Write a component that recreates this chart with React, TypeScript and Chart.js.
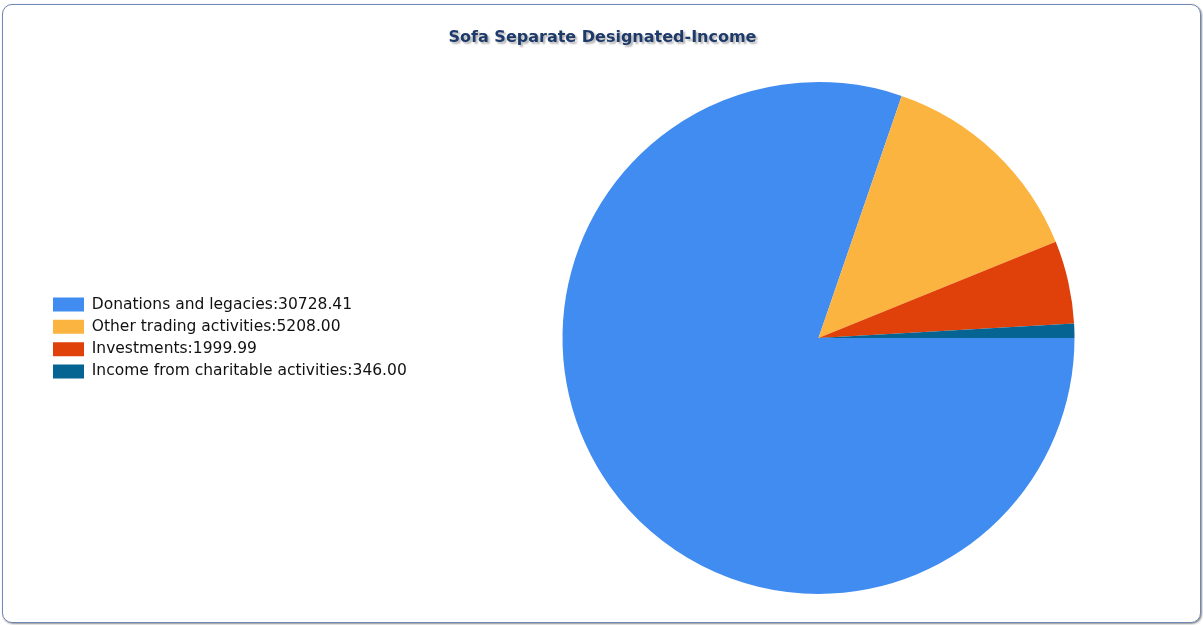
import React, { useEffect, useRef } from "react";
import { Chart, registerables } from "chart.js";

Chart.register(...registerables);

const categories = [
  "Donations and legacies",
  "Other trading activities",
  "Investments",
  "Income from charitable activities",
];
const values = [30728.41, 5208.0, 1999.99, 346.0];
const colors = ["#418CF0", "#FCB441", "#E0400A", "#056492"];
const chartTitle = "Sofa Separate Designated-Income";

const W = 1203;
const H = 625;
const PIE_CX = 818.5;
const PAD_LEFT = 46.2;
const LEGEND_PAD = 6.8;

export default function App() {
  const ref = useRef<HTMLCanvasElement>(null);

  useEffect(() => {
    const canvas = ref.current;
    if (!canvas) return;

    const titlePlugin = {
      id: "shadowTitle",
      afterDraw(chart: any) {
        const ctx = chart.ctx as CanvasRenderingContext2D;
        ctx.save();
        ctx.font = 'bold 16px "DejaVu Sans"';
        ctx.textAlign = "center";
        ctx.textBaseline = "middle";
        ctx.shadowColor = "rgba(0,0,0,0.3)";
        ctx.shadowOffsetX = 2;
        ctx.shadowOffsetY = 2;
        ctx.shadowBlur = 2;
        ctx.fillStyle = "#1d3a6a";
        ctx.fillText(chartTitle, 602.5, 38);
        ctx.restore();
      },
    };

    const legendWidthPlugin = {
      id: "legendWidth",
      beforeLayout(chart: any) {
        const lg = chart.legend;
        if (lg && !lg.__patched) {
          const orig = lg.fit;
          lg.fit = function () {
            orig.call(this);
            this.width = 2 * PIE_CX - W - PAD_LEFT;
          };
          lg.__patched = true;
        }
      },
    };

    const chart = new Chart(canvas, {
      type: "pie",
      data: {
        labels: categories,
        datasets: [
          {
            data: values,
            backgroundColor: colors,
            borderWidth: 0,
            hoverOffset: 0,
            offset: 0,
          },
        ],
      },
      options: {
        responsive: false,
        animation: false,
        events: [],
        rotation: 90,
        layout: { padding: { left: PAD_LEFT, right: 0, top: 82, bottom: 31 } },
        plugins: {
          title: { display: false },
          tooltip: { enabled: false },
          legend: {
            position: "left",
            align: "center",
            labels: {
              boxWidth: 31,
              boxHeight: 14,
              padding: LEGEND_PAD,
              color: "#111111",
              font: { family: '"DejaVu Sans"', size: 15.5 },
              generateLabels: () =>
                categories.map((c, i) => ({
                  text: `${c}:${values[i].toFixed(2)}`,
                  fillStyle: colors[i],
                  strokeStyle: colors[i],
                  lineWidth: 0,
                  hidden: false,
                  index: i,
                  fontColor: "#111111",
                })),
            },
          },
        },
      } as any,
      plugins: [legendWidthPlugin, titlePlugin],
    });

    return () => chart.destroy();
  }, []);

  return (
    <div
      style={{
        position: "fixed",
        left: 0,
        top: 0,
        width: W,
        height: H,
        background: "#ffffff",
        overflow: "hidden",
      }}
    >
      <div
        style={{
          position: "absolute",
          left: 2,
          top: 4,
          width: 1197,
          height: 617,
          border: "1px solid #6f87b4",
          borderRadius: 10,
          boxShadow: "1px 1px 2px rgba(0,0,0,0.45)",
          background: "#ffffff",
        }}
      />
      <canvas
        ref={ref}
        width={W}
        height={H}
        style={{ position: "absolute", left: 0, top: 0 }}
      />
    </div>
  );
}
